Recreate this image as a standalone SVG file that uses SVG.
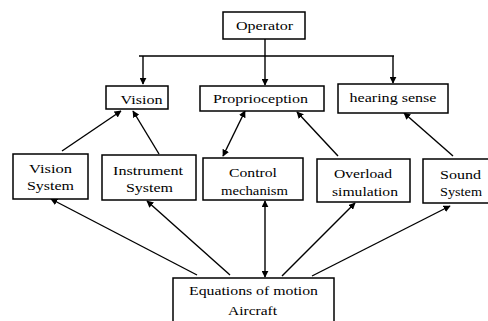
<svg xmlns="http://www.w3.org/2000/svg" width="488" height="321" viewBox="0 0 488 321">
<defs>
<marker id="ah" viewBox="0 0 10 10" refX="9" refY="5" markerWidth="7" markerHeight="7" orient="auto-start-reverse" markerUnits="userSpaceOnUse">
<path d="M0,0 L10,5 L0,10 z" fill="#000"/>
</marker>
<style>
.box{fill:#fff;stroke:#000;stroke-width:1.5}
.t{font-family:'Liberation Serif','DejaVu Serif','Times New Roman',serif;font-size:13px;fill:#000;text-anchor:middle}
.c{stroke:#000;stroke-width:1.4;fill:none}
.a{marker-end:url(#ah)}
.d{marker-start:url(#ah);marker-end:url(#ah)}
</style>
</defs>
<rect width="488" height="321" fill="#fff"/>
<g id="connectors">
<path class="c" d="M265,39 V56 M139,56 H394"/>
<path class="c a" d="M143,56 V84"/>
<path class="c a" d="M265,56 V85"/>
<path class="c a" d="M393,56 V83"/>
<path class="c a" d="M62,151 L121,111"/>
<path class="c a" d="M159,154 L133,111"/>
<path class="c d" d="M223,156 L245,111"/>
<path class="c a" d="M338,156 L297,112"/>
<path class="c a" d="M453,156 L404,113"/>
<path class="c a" d="M197,275 L51,199"/>
<path class="c a" d="M230,275 L147,201"/>
<path class="c d" d="M265,201 V277"/>
<path class="c a" d="M282,276 L355,203"/>
<path class="c a" d="M312,276 L450,206"/>
</g>
<g id="operator"><rect class="box" x="223" y="12" width="82" height="27"/><text class="t" x="264.5" y="29.5" textLength="57" lengthAdjust="spacingAndGlyphs">Operator</text></g>
<g id="vision"><rect class="box" x="106" y="86" width="62" height="23"/><text class="t" x="141.5" y="104" textLength="42" lengthAdjust="spacingAndGlyphs">Vision</text></g>
<g id="proprioception"><rect class="box" x="200" y="86" width="124" height="25"/><text class="t" x="260.5" y="103" textLength="95" lengthAdjust="spacingAndGlyphs">Proprioception</text></g>
<g id="hearing"><rect class="box" x="338" y="84" width="110" height="29"/><text class="t" x="393" y="101.5" textLength="87" lengthAdjust="spacingAndGlyphs">hearing sense</text></g>
<g id="vision-system"><rect class="box" x="13" y="154" width="75" height="45"/><text class="t" x="50.5" y="173" textLength="43" lengthAdjust="spacingAndGlyphs">Vision</text><text class="t" x="50.5" y="190" textLength="47" lengthAdjust="spacingAndGlyphs">System</text></g>
<g id="instrument-system"><rect class="box" x="102" y="155" width="94" height="45"/><text class="t" x="148" y="175" textLength="70" lengthAdjust="spacingAndGlyphs">Instrument</text><text class="t" x="149.5" y="192" textLength="47" lengthAdjust="spacingAndGlyphs">System</text></g>
<g id="control-mechanism"><rect class="box" x="203" y="158" width="100" height="42"/><text class="t" x="253" y="176.5" textLength="48" lengthAdjust="spacingAndGlyphs">Control</text><text class="t" x="254.5" y="195" textLength="67" lengthAdjust="spacingAndGlyphs">mechanism</text></g>
<g id="overload-simulation"><rect class="box" x="317" y="159" width="93" height="43"/><text class="t" x="363" y="178" textLength="58" lengthAdjust="spacingAndGlyphs">Overload</text><text class="t" x="365" y="196" textLength="66" lengthAdjust="spacingAndGlyphs">simulation</text></g>
<g id="sound-system"><rect class="box" x="423" y="159" width="68" height="44"/><text class="t" x="460.5" y="179" textLength="41" lengthAdjust="spacingAndGlyphs">Sound</text><text class="t" x="461" y="196" textLength="42" lengthAdjust="spacingAndGlyphs">System</text></g>
<g id="equations"><rect class="box" x="173" y="278" width="161" height="50"/><text class="t" x="253.5" y="295" textLength="129" lengthAdjust="spacingAndGlyphs">Equations of motion</text><text class="t" x="252.5" y="315" textLength="49" lengthAdjust="spacingAndGlyphs">Aircraft</text></g>
</svg>
